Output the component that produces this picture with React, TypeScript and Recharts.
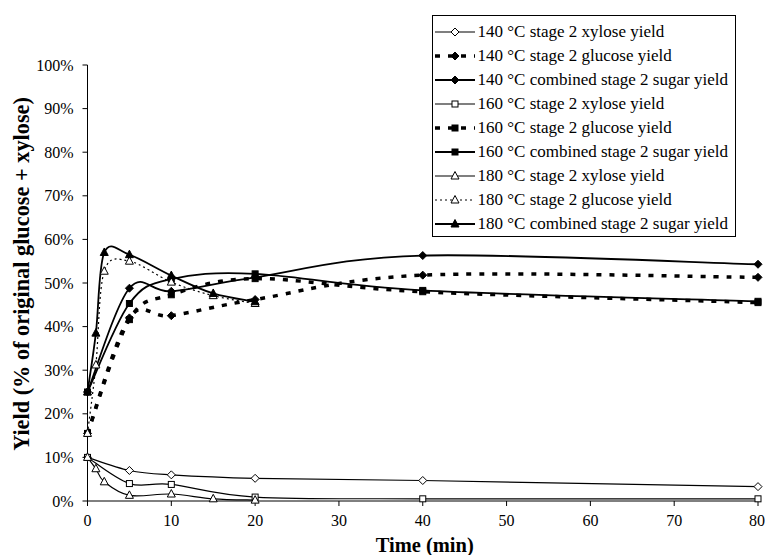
import React from "react"
import { LineChart, Line, XAxis, YAxis, Legend, Label } from "recharts"

const time140 = [0, 5, 10, 20, 40, 80]
const time160 = [0, 5, 10, 20, 40, 80]
const time180 = [0, 1, 2, 5, 10, 15, 20]

const xylose140 = [10, 7.0, 6.0, 5.2, 4.7, 3.3]
const glucose140 = [15.5, 42, 42.5, 46.2, 51.8, 51.3]
const combined140 = [25, 48.8, 48.1, 51.3, 56.3, 54.3]

const xylose160 = [10, 4.0, 3.8, 0.9, 0.5, 0.5]
const glucose160 = [15.5, 41.6, 47.3, 51, 48, 45.5]
const combined160 = [25, 45.3, 50.9, 52.1, 48.3, 45.8]

const xylose180 = [10, 7.4, 4.4, 1.3, 1.6, 0.5, 0.2]
const glucose180 = [15.5, 31.2, 52.7, 55, 50.2, 47.1, 45.3]
const combined180 = [25, 38.5, 57, 56.5, 51.7, 47.6, 45.7]

const xTicks = [0, 10, 20, 30, 40, 50, 60, 70, 80]
const yTicks = [0, 10, 20, 30, 40, 50, 60, 70, 80, 90, 100]

const FONT = '"Liberation Serif", "Times New Roman", serif'

type Shape = "diamond" | "square" | "triangle"

const toRows = (t: number[], v: number[]) => t.map((x, i) => ({ t: x, v: v[i] }))

const series = [
  { name: "140 °C stage 2 xylose yield", data: toRows(time140, xylose140), shape: "diamond", filled: false, width: 1.2, dash: undefined },
  { name: "140 °C stage 2 glucose yield", data: toRows(time140, glucose140), shape: "diamond", filled: true, width: 3.5, dash: "5 8" },
  { name: "140 °C combined stage 2 sugar yield", data: toRows(time140, combined140), shape: "diamond", filled: true, width: 1.8, dash: undefined },
  { name: "160 °C stage 2 xylose yield", data: toRows(time160, xylose160), shape: "square", filled: false, width: 1.2, dash: undefined },
  { name: "160 °C stage 2 glucose yield", data: toRows(time160, glucose160), shape: "square", filled: true, width: 3.5, dash: "5 8" },
  { name: "160 °C combined stage 2 sugar yield", data: toRows(time160, combined160), shape: "square", filled: true, width: 1.8, dash: undefined },
  { name: "180 °C stage 2 xylose yield", data: toRows(time180, xylose180), shape: "triangle", filled: false, width: 1.2, dash: undefined },
  { name: "180 °C stage 2 glucose yield", data: toRows(time180, glucose180), shape: "triangle", filled: false, width: 1.2, dash: "2 3" },
  { name: "180 °C combined stage 2 sugar yield", data: toRows(time180, combined180), shape: "triangle", filled: true, width: 1.8, dash: undefined },
]

// spreadsheet-style smoothed line (cardinal bezier through the points)
function smoothCurve(context: any) {
  let pts: number[][] = []
  return {
    areaStart() {},
    areaEnd() {},
    lineStart() {
      pts = []
    },
    point(x: number, y: number) {
      pts.push([+x, +y])
    },
    lineEnd() {
      const n = pts.length
      if (!n) return
      context.moveTo(pts[0][0], pts[0][1])
      for (let i = 0; i < n - 1; i++) {
        const p0 = pts[Math.max(i - 1, 0)]
        const p1 = pts[i]
        const p2 = pts[i + 1]
        const p3 = pts[Math.min(i + 2, n - 1)]
        context.bezierCurveTo(
          p1[0] + (p2[0] - p0[0]) / 6,
          p1[1] + (p2[1] - p0[1]) / 6,
          p2[0] - (p3[0] - p1[0]) / 6,
          p2[1] - (p3[1] - p1[1]) / 6,
          p2[0],
          p2[1]
        )
      }
    },
  }
}

function marker(cx: number, cy: number, shape: Shape, filled: boolean, key?: any) {
  const fill = filled ? "#000" : "#fff"
  if (shape === "diamond") {
    return (
      <polygon key={key} points={`${cx},${cy - 4} ${cx + 4},${cy} ${cx},${cy + 4} ${cx - 4},${cy}`}
        fill={fill} stroke="#000" strokeWidth={1} />
    )
  }
  if (shape === "square") {
    return <rect key={key} x={cx - 3} y={cy - 3} width={6} height={6} fill={fill} stroke="#000" strokeWidth={1} />
  }
  return (
    <polygon key={key} points={`${cx},${cy - 4.5} ${cx + 4},${cy + 3} ${cx - 4},${cy + 3}`}
      fill={fill} stroke="#000" strokeWidth={1} />
  )
}

function LegendBox() {
  return (
    <div style={{ paddingTop: 4, fontFamily: FONT, fontSize: 17, color: "#000" }}>
      {series.map((s) => (
        <div key={s.name} style={{ display: "flex", alignItems: "center", height: 24 }}>
          <svg width={40} height={14} style={{ marginLeft: 2, marginRight: 3 }}>
            <line x1={0} y1={7} x2={40} y2={7} stroke="#000" strokeWidth={s.width} strokeDasharray={s.dash} />
            {marker(20, 7, s.shape as Shape, s.filled)}
          </svg>
          <span style={{ whiteSpace: "nowrap" }}>{s.name}</span>
        </div>
      ))}
    </div>
  )
}

export default function App() {
  return (
    <div style={{ position: "absolute", left: 0, top: 0, width: 765, height: 555, background: "#fff" }}>
      <LineChart width={765} height={555} margin={{ top: 65, right: 7, bottom: 0, left: 0 }}>
        <XAxis
          dataKey="t"
          type="number"
          domain={[0, 80]}
          ticks={xTicks}
          height={54}
          tickSize={5}
          tickMargin={9}
          stroke="#000"
          tick={{ fill: "#000", fontFamily: FONT, fontSize: 16 }}
          allowDuplicatedCategory={false}
        >
          <Label
            content={(p: any) => {
              const vb = p.viewBox
              return (
                <text x={vb.x + vb.width / 2 + 2} y={vb.y + 44} textAnchor="middle" dominantBaseline="central"
                  fontFamily={FONT} fontSize={20.5} fontWeight="bold" fill="#000">
                  Time (min)
                </text>
              )
            }}
          />
        </XAxis>
        <YAxis
          type="number"
          domain={[0, 100]}
          ticks={yTicks}
          width={87.5}
          tickSize={5}
          tickMargin={9}
          stroke="#000"
          tickFormatter={(v: number) => `${v}%`}
          tick={{ fill: "#000", fontFamily: FONT, fontSize: 16 }}
        >
          <Label
            content={(p: any) => {
              const vb = p.viewBox
              const cx = 21
              const cy = vb.y + vb.height / 2 - 9
              return (
                <text x={cx} y={cy} transform={`rotate(-90, ${cx}, ${cy})`} textAnchor="middle"
                  dominantBaseline="central" fontFamily={FONT} fontSize={22.3} fontWeight="bold" fill="#000">
                  Yield (% of original glucose + xylose)
                </text>
              )
            }}
          />
        </YAxis>
        <Legend
          layout="vertical"
          align="center"
          verticalAlign="middle"
          content={() => <LegendBox />}
          wrapperStyle={{
            left: 431.5,
            top: 15,
            width: 304,
            height: 222,
            border: "1.3px solid #000",
            background: "#fff",
            boxSizing: "border-box",
          }}
        />
        {series.map((s) => (
          <Line
            key={s.name}
            data={s.data}
            dataKey="v"
            name={s.name}
            type={smoothCurve as any}
            stroke="#000"
            strokeWidth={s.width}
            strokeDasharray={s.dash}
            dot={(p: any) => marker(p.cx, p.cy, s.shape as Shape, s.filled, p.index)}
            activeDot={false}
            isAnimationActive={false}
          />
        ))}
      </LineChart>
    </div>
  )
}
